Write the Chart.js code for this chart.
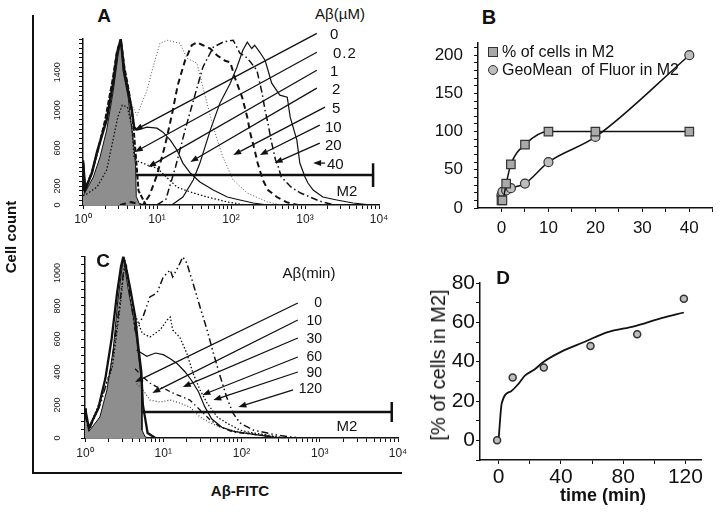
<!DOCTYPE html>
<html>
<head>
<meta charset="utf-8">
<script src="https://cdn.jsdelivr.net/npm/chart.js@4.4.1/dist/chart.umd.min.js"></script>
<style>
  body { margin: 0; width: 720px; height: 515px; position: relative; overflow: hidden; background: #fff;
         font-family: Arial, "Liberation Sans", Helvetica, sans-serif; color: #111; }
  .box { position: absolute; }
  .c { position: absolute; white-space: nowrap; line-height: 1; transform: translate(-50%, -50%); }
  .lf { position: absolute; white-space: nowrap; line-height: 1; transform: translate(0, -50%); }
  .rt { position: absolute; white-space: nowrap; line-height: 1; transform: translate(-100%, -50%); }
  .bar { position: absolute; background: #111; }
</style>
</head>
<body>
<div class="bar" style="left:32px;top:15px;width:2px;height:459px"></div>
<div class="bar" style="left:32px;top:472px;width:370px;height:2px"></div>

<div class="box" style="left:40px;top:30px"><canvas id="chartA" width="350" height="200"></canvas></div>
<div class="box" style="left:40px;top:245px"><canvas id="chartC" width="370" height="222"></canvas></div>
<div class="box" style="left:400px;top:30px"><canvas id="chartB" width="320" height="215"></canvas></div>
<div class="box" style="left:400px;top:270px"><canvas id="chartD" width="320" height="235"></canvas></div>

<!-- panel letters and axis titles -->
<div class="c" style="left:104px;top:15px;font-weight:bold;font-size:19px">A</div>
<div class="c" style="left:489px;top:17px;font-weight:bold;font-size:20px">B</div>
<div class="c" style="left:103px;top:260px;font-weight:bold;font-size:19px">C</div>
<div class="c" style="left:503px;top:277px;font-weight:bold;font-size:19px">D</div>
<div class="c" style="left:10px;top:237px;font-weight:bold;font-size:15px;transform:translate(-50%,-50%) rotate(-90deg)">Cell count</div>
<div class="c" style="left:240px;top:490px;font-weight:bold;font-size:15px">Aβ-FITC</div>
<div class="c" style="left:438px;top:365px;font-size:20px;transform:translate(-50%,-50%) rotate(-90deg)">[% of cells in M2]</div>
<div class="c" style="left:603px;top:495px;font-weight:bold;font-size:18px">time (min)</div>

<!-- panel A labels -->
<div class="c" style="left:340px;top:13px;font-size:15px">Aβ(µM)</div>
<div class="lf" style="left:330px;top:33px;font-size:15px">0</div>
<div class="lf" style="left:333px;top:52px;font-size:15px;letter-spacing:1px">0.2</div>
<div class="lf" style="left:330px;top:70px;font-size:15px">1</div>
<div class="lf" style="left:332px;top:88px;font-size:15px">2</div>
<div class="lf" style="left:332px;top:107px;font-size:15px">5</div>
<div class="lf" style="left:325px;top:126px;font-size:15px">10</div>
<div class="lf" style="left:325px;top:144px;font-size:15px">20</div>
<div class="lf" style="left:327px;top:163px;font-size:15px">40</div>
<div class="c" style="left:347px;top:190px;font-size:15px">M2</div>

<!-- panel C labels -->
<div class="c" style="left:309px;top:272px;font-size:15px">Aβ(min)</div>
<div class="rt" style="left:322px;top:302px;font-size:14px">0</div>
<div class="rt" style="left:322px;top:320px;font-size:14px">10</div>
<div class="rt" style="left:322px;top:338px;font-size:14px">30</div>
<div class="rt" style="left:322px;top:356px;font-size:14px">60</div>
<div class="rt" style="left:322px;top:372px;font-size:14px">90</div>
<div class="rt" style="left:322px;top:388px;font-size:14px">120</div>
<div class="c" style="left:347px;top:425px;font-size:15px">M2</div>

<!-- panel B legend -->
<div style="position:absolute;left:488px;top:47px;width:8px;height:8px;background:#a9a9a9;border:1px solid #333"></div>
<div class="lf" style="left:502px;top:52px;font-size:16px">% of cells in M2</div>
<div style="position:absolute;left:488px;top:65px;width:8px;height:8px;border-radius:50%;background:#bdbdbd;border:1px solid #333"></div>
<div class="lf" style="left:502px;top:70px;font-size:16px">GeoMean&nbsp; of Fluor in M2</div>

<script>
// ---- panel A: histograms vs Abeta dose, x = log10(FITC) in decades, y = cell count
const A0x  = [0, 0.01, 0.03, 0.14, 0.23, 0.32, 0.41, 0.47, 0.51, 0.54, 0.61, 0.66, 0.69, 0.71, 0.72, 0.76, 0.8];
const A0y  = [440, 150, 137, 295, 505, 790, 1210, 1558, 1737, 1420, 1137, 800, 600, 420, 90, 15, 0];
const A02x = [0, 0.03, 0.12, 0.19, 0.32, 0.41, 0.46, 0.51, 0.56, 0.6, 0.66, 0.69, 0.73, 0.865, 1.0, 1.08, 1.18, 1.27, 1.35, 1.45, 1.58, 1.76, 1.95, 2.12, 2.3, 2.5];
const A02y = [470, 160, 337, 560, 900, 1300, 1600, 1745, 1400, 1242, 1000, 820, 789, 821, 810, 768, 684, 579, 442, 337, 242, 158, 84, 53, 21, 0];
const A1x  = [0, 0.03, 0.19, 0.32, 0.405, 0.47, 0.53, 0.6, 0.66, 0.69, 0.72, 0.87, 1.0, 1.14, 1.27, 1.45, 1.68, 1.95, 2.2];
const A1y  = [100, 105, 190, 368, 684, 926, 1053, 1032, 821, 505, 470, 421, 389, 284, 189, 137, 84, 32, 0];
const A2x  = [0, 0.03, 0.12, 0.2, 0.3, 0.4, 0.46, 0.51, 0.56, 0.62, 0.67, 0.71, 0.75, 0.85];
const A2y  = [430, 170, 345, 570, 900, 1320, 1620, 1745, 1450, 1200, 930, 560, 150, 0];
const A5x  = [0.6, 0.73, 0.865, 0.946, 1.04, 1.135, 1.31, 1.405, 1.54, 1.62, 1.76, 1.89, 2.03, 2.22, 2.49, 2.7];
const A5y  = [1150, 947, 1210, 1453, 1705, 1737, 1705, 1547, 1495, 1242, 821, 505, 263, 126, 32, 0];
const A10x = [0.5, 0.65, 0.81, 0.9, 1.0, 1.11, 1.2, 1.28, 1.38, 1.47, 1.54, 1.62, 1.72, 1.81, 1.92, 1.99, 2.05, 2.15, 2.22, 2.26, 2.32, 2.36, 2.43, 2.5, 2.62, 2.75, 2.9];
const A10y = [0, 30, 0, 105, 316, 632, 947, 1263, 1526, 1684, 1716, 1684, 1650, 1579, 1521, 1505, 1347, 1137, 926, 758, 579, 442, 263, 158, 84, 30, 0];
const A20x = [1.0, 1.12, 1.25, 1.39, 1.52, 1.62, 1.76, 1.9, 2.03, 2.12, 2.22, 2.35, 2.42, 2.46, 2.5, 2.54, 2.6, 2.64, 2.68, 2.81, 2.94, 3.07, 3.2, 3.4];
const A20y = [0, 60, 400, 821, 1179, 1453, 1663, 1720, 1737, 1600, 1550, 1420, 1180, 1000, 860, 690, 480, 400, 295, 190, 126, 84, 40, 0];
const A40x = [1.2, 1.35, 1.49, 1.58, 1.72, 1.85, 1.99, 2.08, 2.16, 2.22, 2.28, 2.32, 2.39, 2.46, 2.5, 2.55, 2.66, 2.76, 2.8, 2.89, 2.93, 3.0, 3.04, 3.11, 3.24, 3.43, 3.65, 3.9];
const A40y = [0, 84, 263, 442, 789, 1074, 1284, 1453, 1632, 1716, 1650, 1684, 1610, 1526, 1421, 1284, 1158, 1137, 926, 684, 442, 295, 232, 158, 84, 53, 21, 0];
const gateA = { from: 0.716, to: 3.92, level: 316, capLow: 190, capHigh: 440 };
// arrows: [x start, y start, x tip, y tip] in axis units
const arrowsA = [[3.16, 1810, 0.70, 789], [3.16, 1610, 0.70, 558], [3.16, 1421, 0.88, 400], [3.16, 1232, 1.45, 453],
                 [3.27, 1032, 2.03, 526], [3.2, 842, 2.39, 526], [3.2, 653, 2.59, 442], [3.27, 442, 3.11, 442]];

// ---- panel C: histograms vs incubation time
const C0x   = [0, 0.01, 0.05, 0.19, 0.28, 0.36, 0.42, 0.47, 0.49, 0.52, 0.56, 0.62, 0.66, 0.69, 0.72, 0.728, 0.77, 0.83];
const C0y   = [160, 150, 40, 127, 291, 533, 836, 1018, 1097, 1000, 879, 733, 594, 473, 352, 48, 6, 0];
const C10x  = [0, 0.01, 0.05, 0.17, 0.26, 0.34, 0.41, 0.46, 0.49, 0.53, 0.58, 0.64, 0.68, 0.72, 0.74, 0.8, 0.9];
const C10y  = [180, 160, 60, 180, 360, 600, 880, 1040, 1100, 1020, 900, 740, 560, 400, 200, 30, 0];
const C120x = [0, 0.05, 0.2, 0.33, 0.43, 0.49, 0.53, 0.58, 0.64, 0.74, 0.83, 0.92, 1.0, 1.09, 1.12, 1.19, 1.25, 1.3, 1.38, 1.47, 1.56, 1.64, 1.73, 1.81, 1.89, 1.98, 2.15, 2.33, 2.45, 2.62, 2.8];
const C120y = [140, 45, 210, 420, 760, 1000, 1040, 850, 655, 733, 855, 879, 976, 1018, 976, 1036, 1097, 1061, 939, 794, 655, 515, 370, 248, 152, 91, 48, 30, 18, 6, 0];
const C90x  = [0, 0.05, 0.2, 0.35, 0.45, 0.51, 0.56, 0.63, 0.73, 0.83, 0.96, 1.05, 1.09, 1.12, 1.21, 1.3, 1.38, 1.47, 1.56, 1.69, 1.81, 1.98, 2.15, 2.33, 2.55];
const C90y  = [150, 60, 230, 430, 800, 1080, 950, 760, 636, 612, 655, 715, 733, 655, 612, 515, 394, 291, 212, 127, 91, 48, 30, 18, 0];
const C60x  = [0.66, 0.79, 0.9, 1.0, 1.09, 1.18, 1.28, 1.36, 1.45, 1.53, 1.62, 1.75, 1.9, 2.07, 2.27, 2.49];
const C60y  = [533, 495, 515, 505, 480, 450, 400, 350, 280, 190, 115, 65, 40, 28, 14, 0];
const C30x  = [0.64, 0.74, 0.83, 0.92, 1.0, 1.12, 1.25, 1.34, 1.47, 1.6, 1.73, 1.89, 2.11, 2.33, 2.5];
const C30y  = [420, 370, 333, 309, 303, 273, 248, 230, 170, 109, 67, 36, 24, 12, 0];
const C5x   = [0.66, 0.74, 0.83, 0.96, 1.09, 1.21, 1.34, 1.47, 1.6, 1.76, 1.98, 2.24, 2.5];
const C5y   = [330, 291, 230, 218, 230, 212, 188, 127, 91, 61, 36, 24, 0];
const gateC = { from: 0.73, to: 3.92, level: 158, capLow: 97, capHigh: 218 };
const arrowsC = [[2.72, 818, 0.64, 339], [2.72, 715, 0.86, 273], [2.72, 606, 1.25, 309],
                 [2.72, 491, 1.5, 261], [2.72, 400, 1.64, 230], [2.66, 291, 1.96, 188]];

// ---- panel B: dose response
const concUM  = [0, 0.2, 1, 2, 5, 10, 20, 40];
const pctM2   = [10, 10, 32, 57, 83, 100, 100, 100];
const geoMean = [17, 21, 23, 26, 32, 60, 93, 200];

// ---- panel D: time course
const timeMin = [-1, 9, 29, 59, 89, 119];
const pctTime = [0, 32, 37, 48, 54, 72];
const fitT = [0, 2, 8, 13, 17, 23, 29, 40, 55, 70, 87, 104, 119];
const fitY = [1, 19, 25, 29, 33, 36, 40, 45, 50, 55, 58, 62, 65];

Chart.defaults.font.family = 'Arial, "Liberation Sans", Helvetica, sans-serif';
Chart.defaults.color = '#111';
Chart.defaults.animation = false;

const sup = ['\u2070', '\u00b9', '\u00b2', '\u00b3', '\u2074'];
const logTicks = [];
for (let n = 0; n < 4; n++) for (let k = 1; k < 10; k++) logTicks.push(n + Math.log10(k));
logTicks.push(4);

const pts = (xs, ys) => xs.map((x, i) => ({ x: x, y: ys[i] }));

const arrowPlugin = {
  id: 'arrows',
  afterDatasetsDraw(chart, args, opts) {
    if (!opts.list) return;
    const ctx = chart.ctx, sx = chart.scales.x, sy = chart.scales.y;
    ctx.save();
    ctx.strokeStyle = '#111'; ctx.fillStyle = '#111'; ctx.lineWidth = 1.3;
    opts.list.forEach(a => {
      const x0 = sx.getPixelForValue(a[0]), y0 = sy.getPixelForValue(a[1]);
      const x1 = sx.getPixelForValue(a[2]), y1 = sy.getPixelForValue(a[3]);
      const ang = Math.atan2(y1 - y0, x1 - x0);
      const hl = 8, hw = 3;
      const bx = x1 - hl * Math.cos(ang), by = y1 - hl * Math.sin(ang);
      ctx.beginPath(); ctx.moveTo(x0, y0); ctx.lineTo(bx, by); ctx.stroke();
      ctx.beginPath(); ctx.moveTo(x1, y1);
      ctx.lineTo(bx + hw * Math.sin(ang), by - hw * Math.cos(ang));
      ctx.lineTo(bx - hw * Math.sin(ang), by + hw * Math.cos(ang));
      ctx.closePath(); ctx.fill();
    });
    ctx.restore();
  }
};

function line(xs, ys, style) {
  return Object.assign({ data: pts(xs, ys), pointRadius: 0, tension: 0, borderColor: '#111', borderWidth: 1.2, fill: false, order: 1 }, style);
}
function gateSets(g) {
  return [
    line([g.from, g.to], [g.level, g.level], { borderWidth: 2.5 }),
    line([g.to, g.to], [g.capLow, g.capHigh], { borderWidth: 2.5 })
  ];
}

function histOptions(cfg) {
  return {
    responsive: false,
    animation: false,
    layout: { padding: { left: 0, right: cfg.padRight, top: cfg.padTop, bottom: 0 } },
    plugins: { legend: { display: false }, tooltip: { enabled: false }, arrows: { list: cfg.arrows } },
    scales: {
      x: {
        type: 'linear', min: 0, max: 4,
        afterBuildTicks: s => { s.ticks = logTicks.map(v => ({ value: v })); },
        afterFit: s => { s.height = cfg.xHeight; s.paddingLeft = 0; s.paddingRight = 0; },
        border: { color: '#111', width: 1.5 },
        grid: { drawOnChartArea: false, tickLength: 4, tickColor: '#111' },
        ticks: { autoSkip: false, maxRotation: 0, padding: cfg.xPad, font: { size: 12 }, color: '#222',
                 callback: v => Number.isInteger(v) ? '10' + sup[v] : '' }
      },
      y: {
        type: 'linear', min: 0, max: cfg.yMax,
        afterBuildTicks: s => { const t = []; for (let v = 0; v <= cfg.yMax; v += 50) t.push({ value: v }); s.ticks = t; },
        afterFit: s => { s.width = cfg.yWidth; s.paddingTop = 0; s.paddingBottom = 0; },
        border: { color: '#111', width: 1.5 },
        grid: { drawOnChartArea: false, tickLength: 4, tickColor: '#111' },
        ticks: { autoSkip: false, minRotation: 90, maxRotation: 90, crossAlign: 'center', padding: cfg.yPad,
                 font: { size: 9 }, color: '#222',
                 callback: v => cfg.yLabels.includes(v) ? String(v) : '' }
      }
    }
  };
}

new Chart(document.getElementById('chartA'), {
  type: 'line',
  data: {
    datasets: [
      line(A0x, A0y, { fill: 'origin', backgroundColor: '#8e8e8e', borderWidth: 1, order: 10 }),
      line(A02x, A02y, { segment: { borderWidth: c => c.p0.parsed.x < 0.7 ? 2.5 : 1.2 } }),
      line(A2x, A2y, { borderWidth: 2, borderDash: [5, 2] }),
      line(A1x, A1y, { borderWidth: 1.3, borderDash: [1.5, 2] }),
      line(A5x, A5y, { borderWidth: 1, borderDash: [1, 2], borderColor: '#555' }),
      line(A10x, A10y, { borderWidth: 2, borderDash: [6, 4] }),
      line(A20x, A20y, { borderWidth: 1.5, borderDash: [7, 3, 1.5, 3] }),
      line(A40x, A40y, { borderWidth: 1.2 })
    ].concat(gateSets(gateA))
  },
  options: histOptions({ yMax: 1750, yLabels: [0, 200, 600, 1000, 1400], yWidth: 43, xHeight: 25,
                         padRight: 11, padTop: 9, xPad: 3, yPad: 11, arrows: arrowsA }),
  plugins: [arrowPlugin]
});

new Chart(document.getElementById('chartC'), {
  type: 'line',
  data: {
    datasets: [
      line(C0x, C0y, { fill: 'origin', backgroundColor: '#8e8e8e', borderWidth: 1, order: 10 }),
      line(C10x, C10y, { borderWidth: 2.3 }),
      line(C120x, C120y, { borderWidth: 1.5, borderDash: [7, 3, 1.5, 3, 1.5, 3] }),
      line(C90x, C90y, { borderWidth: 1.3, borderDash: [1.5, 2] }),
      line(C60x, C60y, { borderWidth: 1.2 }),
      line(C30x, C30y, { borderWidth: 1.3, borderDash: [5, 3, 1.5, 3] }),
      line(C5x, C5y, { borderWidth: 1.2, borderDash: [1, 2], borderColor: '#444' })
    ].concat(gateSets(gateC))
  },
  options: histOptions({ yMax: 1100, yLabels: [0, 200, 400, 600, 800, 1000], yWidth: 45, xHeight: 29,
                         padRight: 12, padTop: 11.5, xPad: 4, yPad: 13, arrows: arrowsC }),
  plugins: [arrowPlugin]
});

// ---- panel B
const bTicksX = [], bTicksY = [];
for (let v = 0; v <= 45; v += 5) bTicksX.push({ value: v });
for (let v = 0; v <= 210; v += 10) bTicksY.push({ value: v });

new Chart(document.getElementById('chartB'), {
  type: 'scatter',
  data: {
    datasets: [
      { data: pts(concUM, pctM2), showLine: true, cubicInterpolationMode: 'monotone', borderColor: '#111', borderWidth: 1.5,
        pointStyle: 'rect', pointRadius: 6, pointBackgroundColor: '#a9a9a9', pointBorderColor: '#333', pointBorderWidth: 1.2 },
      { data: pts(concUM, geoMean), showLine: true, cubicInterpolationMode: 'monotone', borderColor: '#111', borderWidth: 1.5,
        pointStyle: 'circle', pointRadius: 4.5, pointBackgroundColor: '#bdbdbd', pointBorderColor: '#333', pointBorderWidth: 1.2 }
    ]
  },
  options: {
    responsive: false, animation: false,
    layout: { padding: { left: 0, right: 1, top: 13, bottom: 0 } },
    plugins: { legend: { display: false }, tooltip: { enabled: false } },
    scales: {
      x: {
        type: 'linear', min: -5, max: 45,
        afterBuildTicks: s => { s.ticks = bTicksX.slice(); },
        afterFit: s => { s.height = 37; s.paddingLeft = 0; s.paddingRight = 0; },
        border: { color: '#111', width: 1.5 },
        grid: { drawOnChartArea: false, tickLength: 4, tickColor: '#111' },
        ticks: { autoSkip: false, maxRotation: 0, padding: 6, font: { size: 17 }, callback: v => v % 10 === 0 ? String(v) : '' }
      },
      y: {
        type: 'linear', min: 0, max: 216,
        afterBuildTicks: s => { s.ticks = bTicksY.slice(); },
        afterFit: s => { s.width = 78; s.paddingTop = 0; s.paddingBottom = 0; },
        border: { color: '#111', width: 1.5 },
        grid: { drawOnChartArea: false, tickLength: 4, tickColor: '#111' },
        ticks: { autoSkip: false, padding: 11, font: { size: 17 }, callback: v => v % 50 === 0 ? String(v) : '' }
      }
    }
  }
});

// ---- panel D
const dTicksX = [], dTicksY = [];
for (let v = 0; v <= 120; v += 20) dTicksX.push({ value: v });
for (let v = -10; v <= 80; v += 10) dTicksY.push({ value: v });

new Chart(document.getElementById('chartD'), {
  type: 'scatter',
  data: {
    datasets: [
      { data: pts(timeMin, pctTime), showLine: false, pointStyle: 'circle', pointRadius: 3.5,
        pointBackgroundColor: '#bdbdbd', pointBorderColor: '#333', pointBorderWidth: 1.5 },
      { data: pts(fitT, fitY), showLine: true, cubicInterpolationMode: 'monotone', pointRadius: 0,
        borderColor: '#111', borderWidth: 1.8 }
    ]
  },
  options: {
    responsive: false, animation: false,
    layout: { padding: { left: 0, right: 19, top: 13, bottom: 0 } },
    plugins: { legend: { display: false }, tooltip: { enabled: false } },
    scales: {
      x: {
        type: 'linear', min: -12, max: 130,
        afterBuildTicks: s => { s.ticks = dTicksX.slice(); },
        afterFit: s => { s.height = 45; s.paddingLeft = 0; s.paddingRight = 0; },
        border: { color: '#111', width: 1.5 },
        grid: { drawOnChartArea: false, tickLength: 4, tickColor: '#111' },
        ticks: { autoSkip: false, maxRotation: 0, padding: 1, font: { size: 21 }, callback: v => v % 40 === 0 ? String(v) : '' }
      },
      y: {
        type: 'linear', min: -10, max: 80,
        afterBuildTicks: s => { s.ticks = dTicksY.slice(); },
        afterFit: s => { s.width = 80; s.paddingTop = 0; s.paddingBottom = 0; },
        border: { color: '#111', width: 1.5 },
        grid: { drawOnChartArea: false, tickLength: 4, tickColor: '#111' },
        ticks: { autoSkip: false, padding: 1, font: { size: 21 }, callback: v => (v >= 0 && v % 20 === 0) ? String(v) : '' }
      }
    }
  }
});
</script>
</body>
</html>
